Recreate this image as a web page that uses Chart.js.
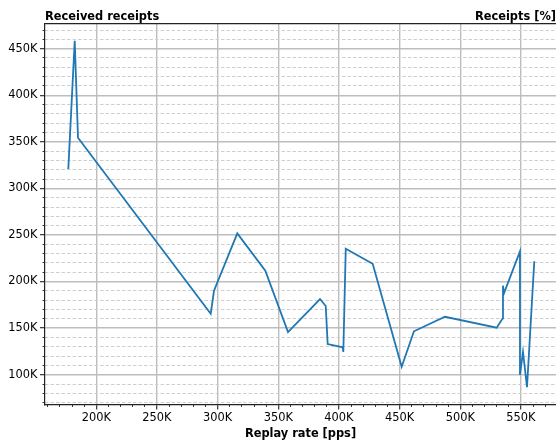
<!DOCTYPE html>
<html>
<head>
<meta charset="utf-8">
<script src="https://cdn.jsdelivr.net/npm/chart.js@4.4.1/dist/chart.umd.min.js"></script>
<style>
  html, body { margin: 0; padding: 0; background: #ffffff; }
  #wrap { width: 556px; height: 441px; }
</style>
</head>
<body>
<div id="wrap"><canvas id="c" width="556" height="441"></canvas></div>
<script>
// Replay rate (packets per second) and the receipts counted at each rate
const replayRate = [
  176900, 182200, 184900, 294300, 297000, 316200, 339300, 358000,
  384400, 389100, 390700, 403100, 403600, 405600, 427800, 451700,
  461800, 487400, 530000, 535000, 535200, 536000, 549200, 549200,
  551700, 555000, 561000
];
const receivedReceipts = [
  320700, 458400, 354300, 165500, 190100, 251700, 211600, 145800,
  181200, 173700, 132900, 129400, 124400, 235200, 219100, 108600,
  146600, 162200, 150400, 160500, 195500, 187300, 232400, 99700,
  124400, 86500, 221700
];

// Labelled axis ticks
const xTickValues = [200000, 250000, 300000, 350000, 400000, 450000, 500000, 550000];
const yTickValues = [100000, 150000, 200000, 250000, 300000, 350000, 400000, 450000];
const minorStep = 10000;

// Visible ranges
const xRange = [157700, 578900];
const yRange = [68000, 477000];

const FONT = "'DejaVu Sans', 'Liberation Sans', sans-serif";
const FONT_SIZE = 11.4;
const SPINE = '#222222';
const MAJOR_GRID = '#bdbdbd';
const MINOR_GRID = '#cfcfcf';

const kLabel = v => (v / 1000) + 'K';

// Minor tick positions: every minorStep inside the range, skipping labelled ones
function minorTicks(range, majors) {
  const out = [];
  const start = Math.ceil(range[0] / minorStep) * minorStep;
  for (let v = start; v <= range[1]; v += minorStep) {
    if (!majors.includes(v)) out.push({ value: v });
  }
  return out;
}

// Corner captions above the plot frame
const cornerCaptions = {
  id: 'cornerCaptions',
  afterDraw(chart) {
    const { ctx, chartArea } = chart;
    ctx.save();
    ctx.fillStyle = '#000';
    ctx.font = 'bold ' + FONT_SIZE + 'px ' + FONT;
    ctx.textBaseline = 'alphabetic';
    const y = chartArea.top - 3.5;
    ctx.textAlign = 'left';
    ctx.fillText('Received receipts', chartArea.left, y);
    ctx.textAlign = 'right';
    ctx.fillText('Receipts [%]', chartArea.right, y);
    ctx.restore();
  }
};

new Chart(document.getElementById('c'), {
  type: 'line',
  data: {
    datasets: [{
      data: replayRate.map((r, i) => ({ x: r, y: receivedReceipts[i] })),
      borderColor: '#1f77b4',
      borderWidth: 1.8,
      pointRadius: 0,
      tension: 0,
      fill: false,
      xAxisID: 'x',
      yAxisID: 'y'
    }]
  },
  options: {
    responsive: false,
    animation: false,
    devicePixelRatio: 1,
    parsing: false,
    layout: { padding: { top: 23.5, left: 0, right: 0, bottom: 0 } },
    plugins: { legend: { display: false }, tooltip: { enabled: false }, title: { display: false } },
    scales: {
      x: {
        type: 'linear', position: 'bottom', weight: 1,
        min: xRange[0], max: xRange[1],
        afterBuildTicks: s => { s.ticks = xTickValues.map(v => ({ value: v })); },
        afterFit: s => { s.height = 36.5; },
        ticks: {
          autoSkip: false, maxRotation: 0, padding: 2,
          color: '#000', font: { family: FONT, size: FONT_SIZE },
          callback: v => kLabel(v)
        },
        grid: {
          color: MAJOR_GRID, lineWidth: 1.4,
          drawTicks: true, tickLength: 5, tickColor: SPINE, tickWidth: 1.1
        },
        border: { display: true, color: SPINE, width: 1.2 },
        title: {
          display: true, text: 'Replay rate [pps]', color: '#000',
          font: { family: FONT, size: FONT_SIZE, weight: 'bold' },
          padding: { top: 0, bottom: 0 }
        }
      },
      xMinor: {
        type: 'linear', position: 'bottom', weight: 0,
        min: xRange[0], max: xRange[1],
        afterBuildTicks: s => { s.ticks = minorTicks(xRange, xTickValues); },
        afterFit: s => { s.height = 0; },
        ticks: { display: false },
        grid: {
          drawOnChartArea: false, drawTicks: true, tickLength: 2.5,
          tickColor: SPINE, tickWidth: 0.9, tickBorderDash: []
        },
        border: { display: false }
      },
      xTop: {
        type: 'linear', position: 'top',
        min: xRange[0], max: xRange[1],
        afterBuildTicks: s => { s.ticks = xTickValues.map(v => ({ value: v })); },
        afterFit: s => { s.height = 0; },
        ticks: { display: false },
        grid: { drawOnChartArea: false, drawTicks: false },
        border: { display: true, color: SPINE, width: 1.2 }
      },
      y: {
        type: 'linear', position: 'left', weight: 1,
        min: yRange[0], max: yRange[1],
        afterBuildTicks: s => { s.ticks = yTickValues.map(v => ({ value: v })); },
        afterFit: s => { s.width = 45; },
        ticks: {
          autoSkip: false, padding: 2.5,
          color: '#000', font: { family: FONT, size: FONT_SIZE },
          callback: v => kLabel(v)
        },
        grid: {
          color: MAJOR_GRID, lineWidth: 1.4,
          drawTicks: true, tickLength: 5, tickColor: SPINE, tickWidth: 1.1
        },
        border: { display: true, color: SPINE, width: 1.2 }
      },
      yMinor: {
        type: 'linear', position: 'left', weight: 0,
        min: yRange[0], max: yRange[1],
        afterBuildTicks: s => { s.ticks = minorTicks(yRange, yTickValues); },
        afterFit: s => { s.width = 0; },
        ticks: { display: false },
        grid: {
          color: MINOR_GRID, lineWidth: 1,
          drawOnChartArea: true, drawTicks: true, tickLength: 2.5,
          tickColor: SPINE, tickWidth: 0.9, tickBorderDash: []
        },
        border: { display: false, dash: [3.5, 2] }
      }
    }
  },
  plugins: [cornerCaptions]
});
</script>
</body>
</html>
